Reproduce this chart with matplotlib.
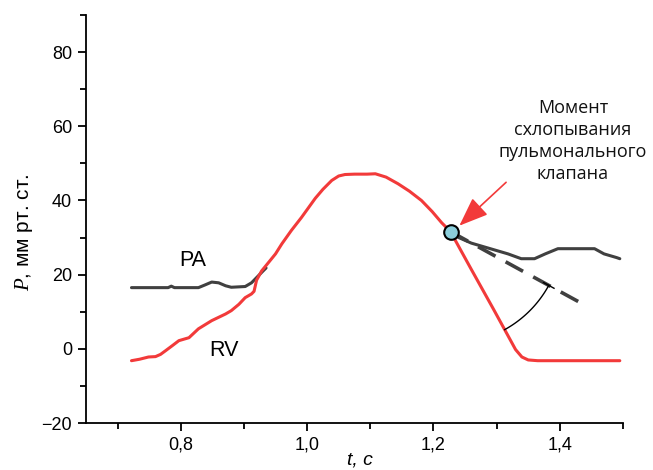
import numpy as np
import matplotlib
matplotlib.use("Agg")
from matplotlib import pyplot as plt
from matplotlib.ticker import MultipleLocator, FuncFormatter

# Данные
t_rv = [0.722, 0.735, 0.749, 0.760, 0.768, 0.776, 0.787, 0.797, 0.813, 0.828,
        0.849, 0.871, 0.880, 0.892, 0.902, 0.912, 0.916, 0.920, 0.928, 0.940,
        0.950, 0.960, 0.975, 0.991, 1.002, 1.013, 1.025, 1.039, 1.050, 1.060,
        1.075, 1.095, 1.108, 1.125, 1.144, 1.162, 1.181, 1.198, 1.213, 1.227,
        1.260, 1.295, 1.330, 1.340, 1.350, 1.365, 1.400, 1.450, 1.495]
p_rv = [-3.2, -2.8, -2.2, -2.1, -1.5, -0.5, 0.9, 2.2, 3.0, 5.4,
        7.6, 9.4, 10.3, 12.0, 13.8, 14.8, 15.5, 18.5, 21.0, 23.5,
        25.6, 28.3, 31.9, 35.4, 38.0, 40.6, 43.0, 45.4, 46.6, 47.0,
        47.1, 47.1, 47.2, 46.3, 44.5, 42.5, 40.0, 37.0, 34.0, 31.6,
        21.4, 10.7, -0.2, -2.2, -3.0, -3.2, -3.2, -3.2, -3.2]

t_pa1 = [0.722, 0.760, 0.780, 0.785, 0.790, 0.828, 0.838, 0.849, 0.860, 0.871,
         0.880, 0.902, 0.912, 0.920, 0.928, 0.935]
p_pa1 = [16.5, 16.5, 16.5, 16.9, 16.5, 16.5, 17.2, 18.0, 17.8, 17.0,
         16.6, 16.8, 17.8, 19.2, 20.6, 21.8]

t_pa2 = [1.227, 1.240, 1.260, 1.282, 1.300, 1.318, 1.339, 1.360, 1.377, 1.397,
         1.420, 1.455, 1.470, 1.490, 1.495]
p_pa2 = [31.6, 30.0, 28.5, 27.4, 26.5, 25.6, 24.3, 24.3, 25.6, 27.0,
         27.0, 27.0, 25.6, 24.6, 24.3]

# касательная и точка схлопывания клапана
t_tan = [1.227, 1.433]
p_tan = [31.6, 12.4]
t_close, p_close = 1.227, 31.6

red = '#f23a3a'
gray = '#404040'

plt.rcParams['font.family'] = ['Liberation Sans', 'DejaVu Sans']
plt.rcParams['mathtext.fontset'] = 'custom'
plt.rcParams['mathtext.it'] = 'Liberation Serif:italic'
plt.rcParams['mathtext.rm'] = 'Liberation Serif'

fig = plt.figure(figsize=(6.53, 4.70), dpi=100)
ax = fig.add_axes([0.1317, 0.1, 0.8223, 0.868])

ax.plot(t_pa1, p_pa1, color=gray, lw=2.2, solid_capstyle='round')
ax.plot(t_pa2, p_pa2, color=gray, lw=2.2, solid_capstyle='round')
ax.plot(t_rv, p_rv, color=red, lw=2.2, solid_capstyle='round')
ax.plot(t_tan, p_tan, color=gray, lw=2.6, dashes=(5.5, 3.2))

ax.set_xlim(0.65, 1.5)
ax.set_ylim(-20, 90)

# дуга угла между касательной и RV
fig.canvas.draw()
tr = ax.transData
c = tr.transform((t_close, p_close))
d1 = tr.transform((1.334, -1.4)) - c
d2 = tr.transform((t_tan[1], p_tan[1])) - c
a1 = np.arctan2(d1[1], d1[0])
a2 = np.arctan2(d2[1], d2[0])
ang = np.linspace(a1, a2, 60)
r = 112
pts = np.column_stack([c[0] + r * np.cos(ang), c[1] + r * np.sin(ang)])
arc = tr.inverted().transform(pts)
ax.plot(arc[:, 0], arc[:, 1], color='black', lw=1.0)
# засечка на конце дуги
u = d2 / np.hypot(*d2)
end = pts[-1]
bar = tr.inverted().transform([end - u * 6, end + u * 6])
ax.plot(bar[:, 0], bar[:, 1], color='black', lw=1.0)

ax.plot([t_close], [p_close], 'o', ms=10.5, mfc='#8ccfdc', mec='black', mew=1.5, zorder=5)

ax.annotate('', xy=(1.241, 33.2), xytext=(1.315, 44.9),
            arrowprops=dict(arrowstyle='-|>,head_length=0.9,head_width=0.35',
                            mutation_scale=20, color=red, lw=1.2, shrinkA=0, shrinkB=0))

ax.text(1.421, 56, 'Момент\nсхлопывания\nпульмонального\nклапана', ha='center', va='center',
        fontsize=13, linespacing=1.3, family=['Open Sans', 'DejaVu Sans'], color='#111111')

ax.text(0.819, 23.8, 'PA', fontsize=15.5, ha='center', va='center')
ax.text(0.869, -0.4, 'RV', fontsize=15.5, ha='center', va='center')

ax.spines['top'].set_visible(False)
ax.spines['right'].set_visible(False)
for s in ['left', 'bottom']:
    ax.spines[s].set_linewidth(1.3)

ax.xaxis.set_major_locator(MultipleLocator(0.2))
ax.xaxis.set_minor_locator(MultipleLocator(0.1))
ax.yaxis.set_major_locator(MultipleLocator(20))
ax.yaxis.set_minor_locator(MultipleLocator(10))
ax.xaxis.set_major_formatter(FuncFormatter(lambda v, p: ('%.1f' % v).replace('.', ',')))
ax.yaxis.set_major_formatter(FuncFormatter(lambda v, p: ('%d' % v).replace('-', '\u2212')))
ax.tick_params(which='both', direction='out', width=1.3, labelsize=13)
ax.tick_params(which='major', length=6, pad=4)
ax.tick_params(which='minor', length=4)

ax.set_ylabel('$P$, мм рт. ст.', fontsize=15)
ax.yaxis.set_label_coords(-0.115, 0.468)
ax.yaxis.label.set_va('center')
ax.set_xlabel('t, c', fontsize=14, style='italic')
ax.xaxis.set_label_coords(0.51, -0.09)
ax.xaxis.label.set_va('center')

fig.savefig('out.png', dpi=100)
